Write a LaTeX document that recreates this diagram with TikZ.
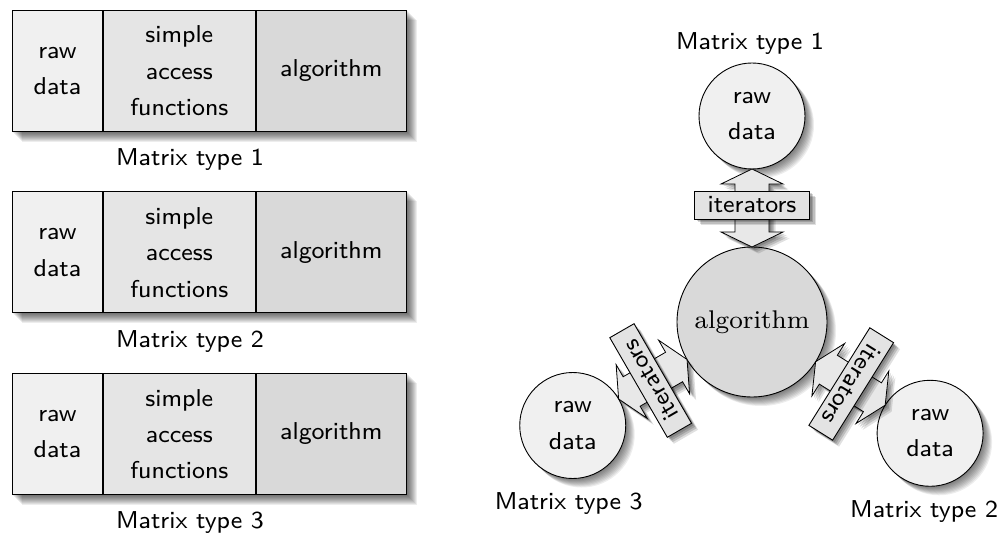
\documentclass[tikz,border=0pt]{standalone}
\usetikzlibrary{calc,shadows}
\pgfdeclarelayer{back}
\pgfsetlayers{back,main}

\definecolor{rawfill}{gray}{0.94}
\definecolor{accfill}{gray}{0.90}
\definecolor{algfill}{gray}{0.85}
\definecolor{arrfill}{gray}{0.91}
\definecolor{itfill}{gray}{0.89}

\tikzset{
  soft/.style={
    drop shadow={shadow xshift=2pt,   shadow yshift=-2pt,   opacity=.16, fill=black},
    drop shadow={shadow xshift=3.5pt, shadow yshift=-3.5pt, opacity=.16, fill=black},
    drop shadow={shadow xshift=5pt,   shadow yshift=-5pt,   opacity=.15, fill=black},
    drop shadow={shadow xshift=6.5pt, shadow yshift=-6.5pt, opacity=.12, fill=black}
  },
  haze/.style={fill=black, opacity=.07},
  cell/.style={rectangle, draw=black, line width=0.9pt, inner sep=0pt,
    minimum height=121pt, anchor=north west},
  sat/.style={circle, draw=black, line width=0.9pt, fill=rawfill,
    minimum size=106pt, inner sep=0pt},
  core/.style={circle, draw=black, line width=0.9pt, fill=algfill,
    minimum size=150pt, inner sep=0pt},
  sans/.style={font=\sffamily\fontsize{8}{11.9}\selectfont, align=center,
    inner sep=0pt, scale=3.05},
  serif/.style={font=\rmfamily\fontsize{8}{10}\selectfont, inner sep=0pt, scale=3.2},
  itbox/.style={rectangle, draw=black, line width=0.9pt, fill=itfill,
    minimum width=115pt, minimum height=28pt, inner sep=0pt, soft},
  darrow/.style={draw=black, line width=0.8pt, fill=arrfill, line join=miter, soft}
}

\begin{document}
\begin{tikzpicture}[x=1pt, y=-1pt]
\useasboundingbox (0,0) rectangle (1001,534);
\begin{pgfonlayer}{back}
  \fill[white] (0,0) rectangle (1001,534);
\end{pgfonlayer}

% ---- left: three monolithic implementations ----
\foreach \k/\T in {1/10, 2/191.5, 3/373}{
  \node[cell, fill=rawfill, minimum width=90pt]  (r\k) at (12,\T) {};
  \node[cell, fill=accfill, minimum width=152pt] (s\k) at (r\k.north east) {};
  \node[cell, fill=algfill, minimum width=150pt] (a\k) at (s\k.north east) {};
  \node[sans] at (r\k) {raw\\data};
  \node[sans] at (s\k) {simple\\access\\functions};
  \node[sans] at (a\k) {algorithm};
  \node[sans, anchor=base] (l\k) at ($(r\k.south west)+(178,34)$) {Matrix type \k};
  \begin{pgfonlayer}{back}
    \foreach \s in {1,...,10}{
      \fill[haze] ([shift={(\s,\s)}]r\k.north west) rectangle ([shift={(\s,\s)}]a\k.south east);
    }
  \end{pgfonlayer}
}

% ---- right: one generic algorithm, three matrix types ----
\node[core] (alg) at (752,322) {};
\node[serif] at (alg) {algorithm};

\node[sat] (m1) at ($(alg)+(-90:206)$) {};
\node[sat] (m3) at ($(alg)+(-210:207)$) {};
\node[sat] (m2) at ($(alg)+(-328:210)$) {};
\foreach \m in {m1,m2,m3}{ \node[sans] at (\m) {raw\\data}; }

\begin{pgfonlayer}{back}
  \foreach \s in {1,...,9}{
    \fill[haze] ([shift={(\s,\s)}]alg.center) circle[radius=75];
    \foreach \m in {m1,m2,m3}{
      \fill[haze] ([shift={(\s,\s)}]\m.center) circle[radius=53];
    }
  }
\end{pgfonlayer}

\node[sans, anchor=base] (lm1) at ($(m1.north)+(-2,-13)$) {Matrix type 1};
\node[sans, anchor=base] (lm3) at ($(m3.south)+(-4,31)$) {Matrix type 3};
\node[sans, anchor=base] (lm2) at ($(m2.south)+(-6,31)$) {Matrix type 2};

% double-headed iterator arrows between the algorithm and each matrix
\foreach \m/\rot in {m1/0, m3/120, m2/238}{
  \coordinate (t0) at ($(alg)!75pt!(\m)$);
  \coordinate (h0) at ($(alg)!90pt!(\m)$);
  \coordinate (h1) at ($(\m)!68pt!(alg)$);
  \coordinate (t1) at ($(\m)!53pt!(alg)$);
  \draw[darrow] (t0)
    -- ($(h0)!31pt!90:(t1)$) -- ($(h0)!17pt!90:(t1)$)
    -- ($(h1)!17pt!-90:(t0)$) -- ($(h1)!31pt!-90:(t0)$)
    -- (t1)
    -- ($(h1)!31pt!90:(t0)$) -- ($(h1)!17pt!90:(t0)$)
    -- ($(h0)!17pt!-90:(t1)$) -- ($(h0)!31pt!-90:(t1)$)
    -- cycle;
  \node[itbox, rotate=\rot] (it\m) at ($(alg)!117pt!(\m)$) {};
  \node[sans, rotate=\rot] at (it\m) {iterators};
}
\end{tikzpicture}
\end{document}
